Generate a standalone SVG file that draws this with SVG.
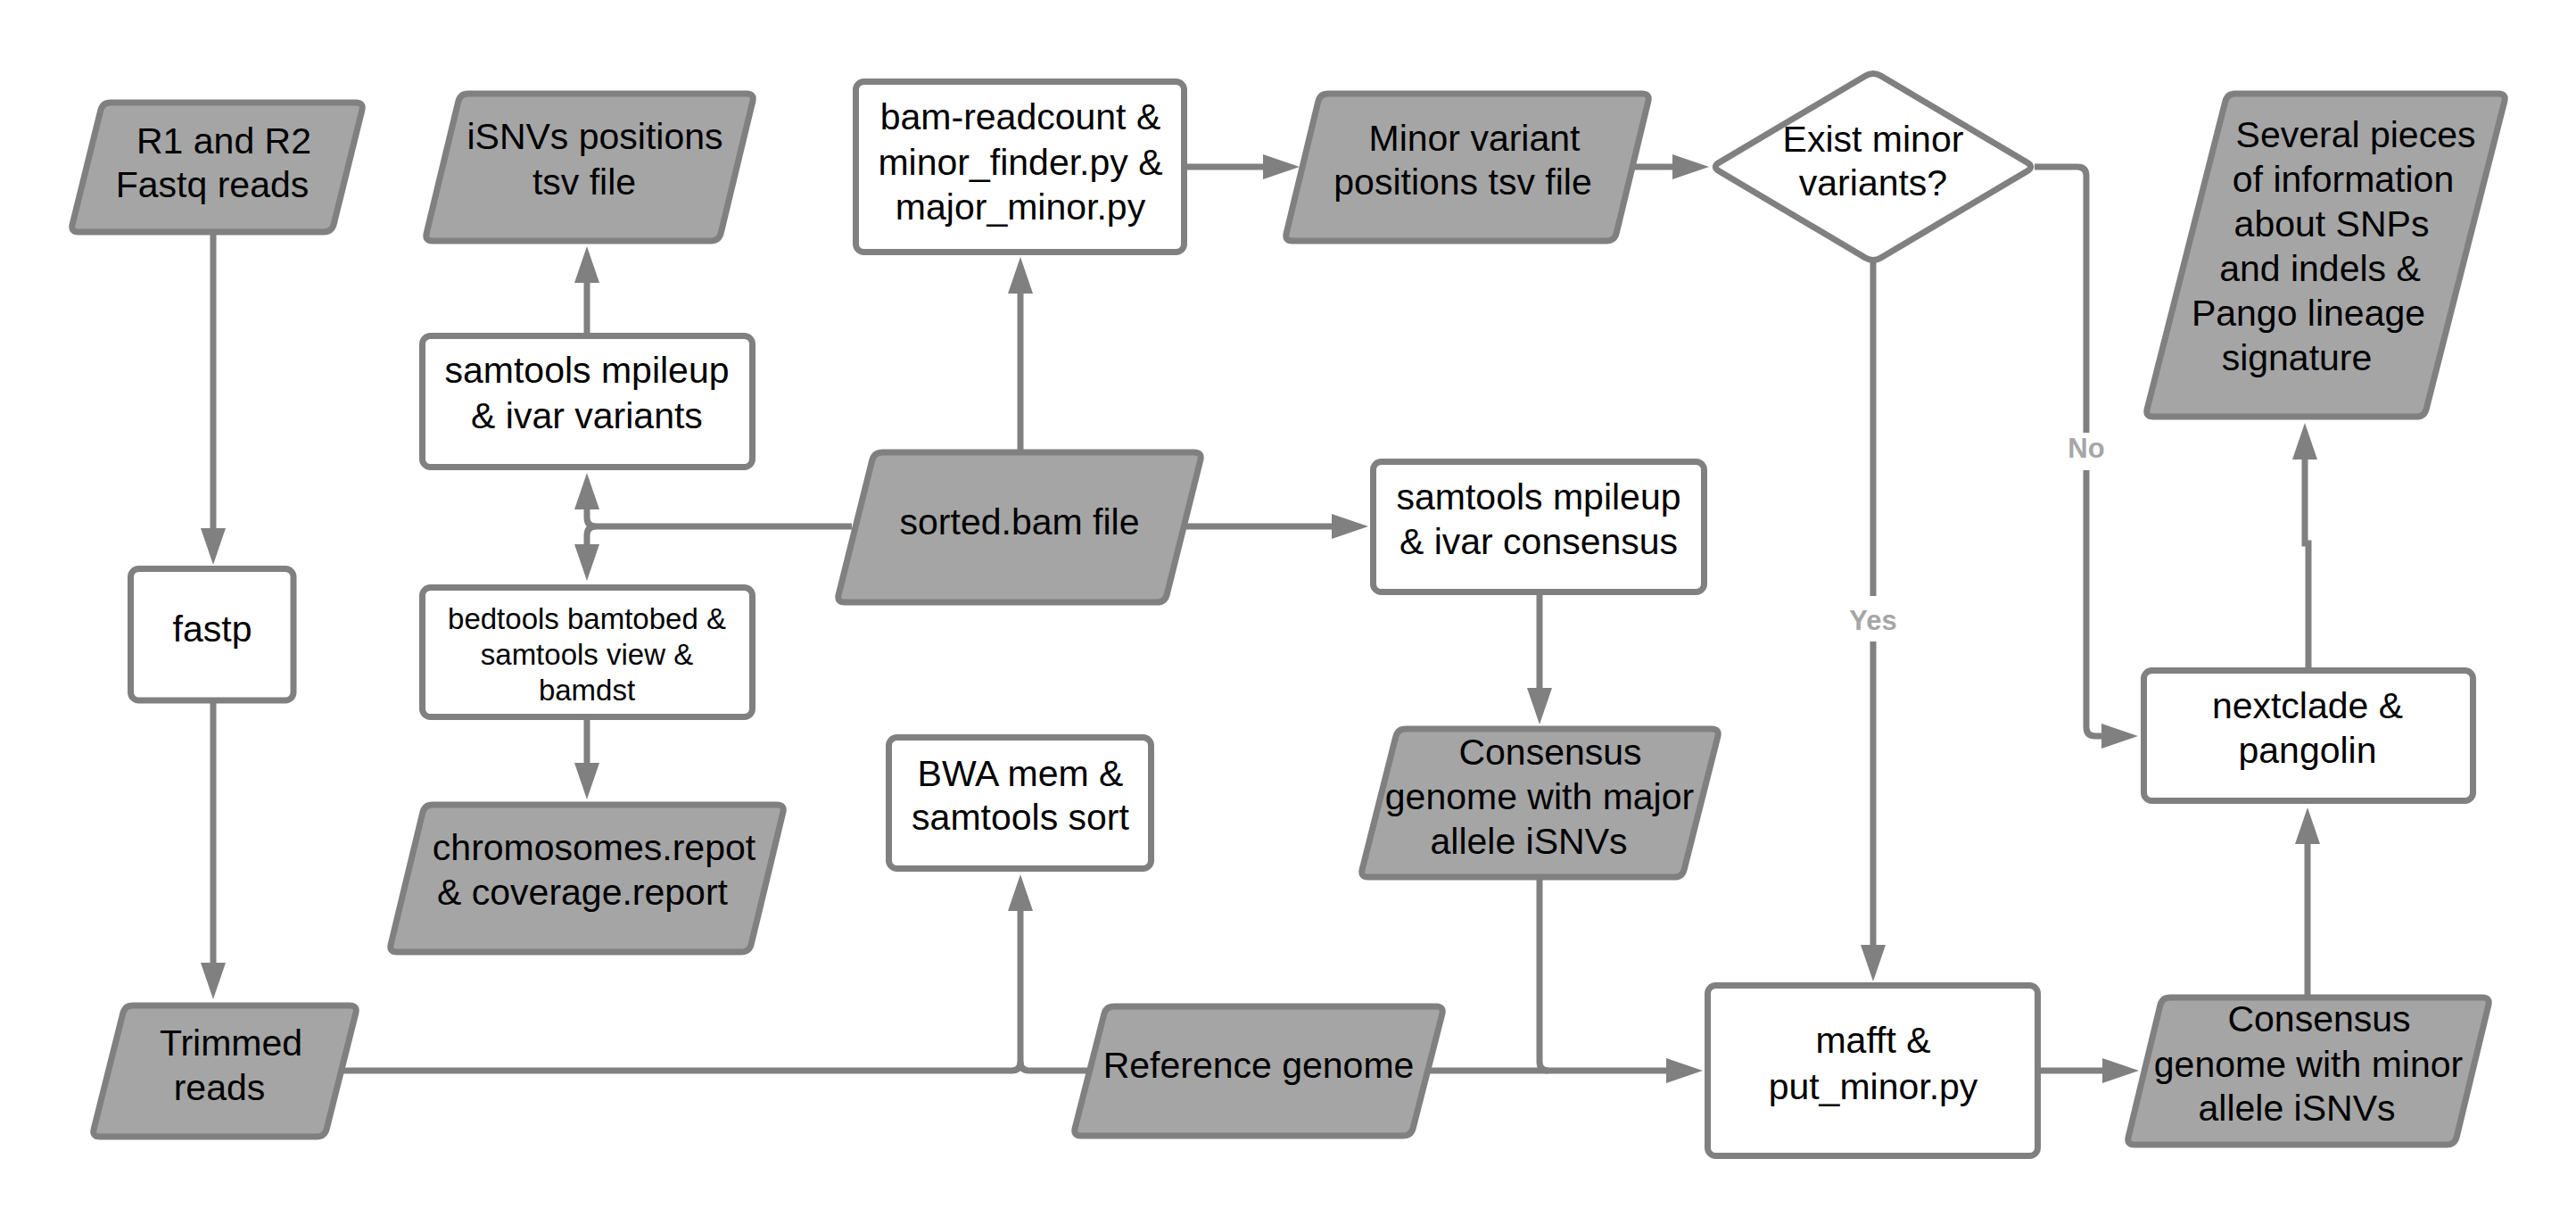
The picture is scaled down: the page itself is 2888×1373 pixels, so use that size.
<svg xmlns="http://www.w3.org/2000/svg" width="2888" height="1373" viewBox="0 0 2888 1373">
<style>
.bg{fill:#ffffff}
.box{fill:#ffffff;stroke:#808080;stroke-width:7}
.io{fill:#a5a5a5;stroke:#808080;stroke-width:7}
.t{font-family:"Liberation Sans",Arial,sans-serif;font-size:41px;fill:#000;text-anchor:middle}
.s{font-size:33px}
.c{fill:none;stroke:#808080;stroke-width:7}
.lbl{font-family:"Liberation Sans",Arial,sans-serif;font-size:31px;font-weight:bold;fill:#a6a6a6;text-anchor:middle}
</style>
<defs>
<marker id="ah" markerUnits="userSpaceOnUse" markerWidth="41" markerHeight="28" refX="3" refY="14" orient="auto">
<path d="M0,0 L41,14 L0,28 Z" fill="#808080"/>
</marker>
</defs>
<rect class="bg" x="0" y="0" width="2888" height="1373"/>
<g id="connectors">
<path class="c" d="M239,260 V595" marker-end="url(#ah)"/>
<path class="c" d="M239,785 V1082" marker-end="url(#ah)"/>
<path class="c" d="M658,376 V314" marker-end="url(#ah)"/>
<path class="c" d="M955,590 H668 Q658,590 658,580 V568" marker-end="url(#ah)"/>
<path class="c" d="M668,590 Q658,590 658,600 V613" marker-end="url(#ah)"/>
<path class="c" d="M658,803.5 V858" marker-end="url(#ah)"/>
<path class="c" d="M1144,507 V326" marker-end="url(#ah)"/>
<path class="c" d="M1327,590 H1496" marker-end="url(#ah)"/>
<path class="c" d="M1327.5,187 H1419" marker-end="url(#ah)"/>
<path class="c" d="M1830,187 H1878" marker-end="url(#ah)"/>
<path class="c" d="M2281,187 H2329 Q2339,187 2339,197 V815 Q2339,825 2349,825 H2359" marker-end="url(#ah)"/>
<path class="c" d="M2100,294 V1062" marker-end="url(#ah)"/>
<path class="c" d="M1726,663.5 V774" marker-end="url(#ah)"/>
<path class="c" d="M1726,983 V1190 Q1726,1200 1736,1200"/>
<path class="c" d="M1601,1200 H1871" marker-end="url(#ah)"/>
<path class="c" d="M383,1200 H1134 Q1144,1200 1144,1190 V1018" marker-end="url(#ah)"/>
<path class="c" d="M1222,1200 H1154 Q1144,1200 1144,1190"/>
<path class="c" d="M2284.5,1200 H2360" marker-end="url(#ah)"/>
<path class="c" d="M2587,1118 V943" marker-end="url(#ah)"/>
<path class="c" d="M2588,751.5 V609 H2584 V512" marker-end="url(#ah)"/>
<rect class="bg" x="2312" y="485" width="54" height="42"/>
<text class="lbl" x="2339" y="513">No</text>
<rect class="bg" x="2070" y="668" width="60" height="51"/>
<text class="lbl" x="2100" y="706">Yes</text>
</g>
<g id="n-r1">
<path class="io" d="M124,115 H399 Q408,115 405.8,123.7 L374.2,251.3 Q372,260 363,260 H88 Q79,260 81.2,251.3 L112.8,123.7 Q115,115 124,115 Z"/>
<text class="t"><tspan x="251" y="172">R1 and R2</tspan><tspan x="238" y="221">Fastq reads</tspan></text>
</g>
<g id="n-fastp">
<rect class="box" x="146.5" y="637.5" width="182.5" height="147.5" rx="9"/>
<text class="t" x="238" y="719">fastp</text>
</g>
<g id="n-trimmed">
<path class="io" d="M149,1127 H392 Q401,1127 398.8,1135.7 L366.2,1265.3 Q364,1274 355,1274 H112 Q103,1274 105.2,1265.3 L137.8,1135.7 Q140,1127 149,1127 Z"/>
<text class="t"><tspan x="259" y="1182.5">Trimmed</tspan><tspan x="246" y="1233">reads</tspan></text>
</g>
<g id="n-isnvs">
<path class="io" d="M525,105 H837 Q846,105 843.8,113.7 L808.2,261.3 Q806,270 797,270 H485 Q476,270 478.2,261.3 L513.8,113.7 Q516,105 525,105 Z"/>
<text class="t"><tspan x="667" y="167">iSNVs positions</tspan><tspan x="655" y="218">tsv file</tspan></text>
</g>
<g id="n-variants">
<rect class="box" x="473.5" y="376.5" width="370" height="147" rx="9"/>
<text class="t"><tspan x="658" y="429">samtools mpileup</tspan><tspan x="658" y="480">&amp; ivar variants</tspan></text>
</g>
<g id="n-bedtools">
<rect class="box" x="473.5" y="658.5" width="370" height="145" rx="9"/>
<text class="t s"><tspan x="658" y="705">bedtools bamtobed &amp;</tspan><tspan x="658" y="744.5">samtools view &amp;</tspan><tspan x="658" y="785">bamdst</tspan></text>
</g>
<g id="n-chrom">
<path class="io" d="M485,902 H871 Q880,902 877.8,910.7 L842.2,1058.3 Q840,1067 831,1067 H445 Q436,1067 438.2,1058.3 L473.8,910.7 Q476,902 485,902 Z"/>
<text class="t"><tspan x="666" y="963.5">chromosomes.repot</tspan><tspan x="653" y="1014">&amp; coverage.report</tspan></text>
</g>
<g id="n-bamreadcount">
<rect class="box" x="959.5" y="91.5" width="368" height="191" rx="9"/>
<text class="t"><tspan x="1144" y="145">bam-readcount &amp;</tspan><tspan x="1144" y="195.5">minor_finder.py &amp;</tspan><tspan x="1144" y="245.5">major_minor.py</tspan></text>
</g>
<g id="n-sorted">
<path class="io" d="M989,507 H1339 Q1348,507 1345.8,515.7 L1308.2,666.3 Q1306,675 1297,675 H947 Q938,675 940.2,666.3 L977.8,515.7 Q980,507 989,507 Z"/>
<text class="t" x="1143" y="599">sorted.bam file</text>
</g>
<g id="n-bwa">
<rect class="box" x="996.5" y="826.5" width="294" height="147" rx="9"/>
<text class="t"><tspan x="1144" y="880.5">BWA mem &amp;</tspan><tspan x="1144" y="930">samtools sort</tspan></text>
</g>
<g id="n-reference">
<path class="io" d="M1249,1128 H1610 Q1619,1128 1616.8,1136.7 L1584.2,1264.3 Q1582,1273 1573,1273 H1212 Q1203,1273 1205.2,1264.3 L1237.8,1136.7 Q1240,1128 1249,1128 Z"/>
<text class="t" x="1411" y="1208">Reference genome</text>
</g>
<g id="n-minorvariant">
<path class="io" d="M1489,105 H1841 Q1850,105 1847.8,113.7 L1812.2,261.3 Q1810,270 1801,270 H1449 Q1440,270 1442.2,261.3 L1477.8,113.7 Q1480,105 1489,105 Z"/>
<text class="t"><tspan x="1653" y="169">Minor variant</tspan><tspan x="1640" y="218">positions tsv file</tspan></text>
</g>
<g id="n-consensuscall">
<rect class="box" x="1539.5" y="517.5" width="371" height="146" rx="9"/>
<text class="t"><tspan x="1725" y="570.5">samtools mpileup</tspan><tspan x="1725" y="620.5">&amp; ivar consensus</tspan></text>
</g>
<g id="n-consensusmajor">
<path class="io" d="M1576,817 H1919 Q1928,817 1925.8,825.7 L1888.2,974.3 Q1886,983 1877,983 H1534 Q1525,983 1527.2,974.3 L1564.8,825.7 Q1567,817 1576,817 Z"/>
<text class="t"><tspan x="1738" y="856.5">Consensus</tspan><tspan x="1726" y="907">genome with major</tspan><tspan x="1714" y="956.6">allele iSNVs</tspan></text>
</g>
<g id="n-decision">
<path class="box" d="M1927.6,181.9 L2091.4,85.1 Q2100,80 2108.6,85.1 L2272.4,181.9 Q2281,187 2272.4,192.1 L2108.6,288.9 Q2100,294 2091.4,288.9 L1927.6,192.1 Q1919,187 1927.6,181.9 Z"/>
<text class="t"><tspan x="2100" y="170">Exist minor</tspan><tspan x="2100" y="219">variants?</tspan></text>
</g>
<g id="n-mafft">
<rect class="box" x="1914.5" y="1104.5" width="370" height="191" rx="9"/>
<text class="t"><tspan x="2100" y="1180">mafft &amp;</tspan><tspan x="2100" y="1232">put_minor.py</tspan></text>
</g>
<g id="n-consensusminor">
<path class="io" d="M2433,1118 H2783 Q2792,1118 2789.8,1126.7 L2754.2,1274.3 Q2752,1283 2743,1283 H2393 Q2384,1283 2386.2,1274.3 L2421.8,1126.7 Q2424,1118 2433,1118 Z"/>
<text class="t"><tspan x="2600" y="1156">Consensus</tspan><tspan x="2588" y="1207">genome with minor</tspan><tspan x="2575" y="1256">allele iSNVs</tspan></text>
</g>
<g id="n-nextclade">
<rect class="box" x="2403.5" y="751.5" width="369" height="146" rx="9"/>
<text class="t"><tspan x="2587" y="804.5">nextclade &amp;</tspan><tspan x="2587" y="855">pangolin</tspan></text>
</g>
<g id="n-several">
<path class="io" d="M2506,105 H2801 Q2810,105 2807.8,113.7 L2720.2,458.3 Q2718,467 2709,467 H2414 Q2405,467 2407.2,458.3 L2494.8,113.7 Q2497,105 2506,105 Z"/>
<text class="t"><tspan x="2641" y="165">Several pieces</tspan><tspan x="2627" y="215">of information</tspan><tspan x="2614" y="265">about SNPs</tspan><tspan x="2601" y="315">and indels &amp;</tspan><tspan x="2588" y="365">Pango lineage</tspan><tspan x="2575" y="415">signature</tspan></text>
</g>
</svg>
